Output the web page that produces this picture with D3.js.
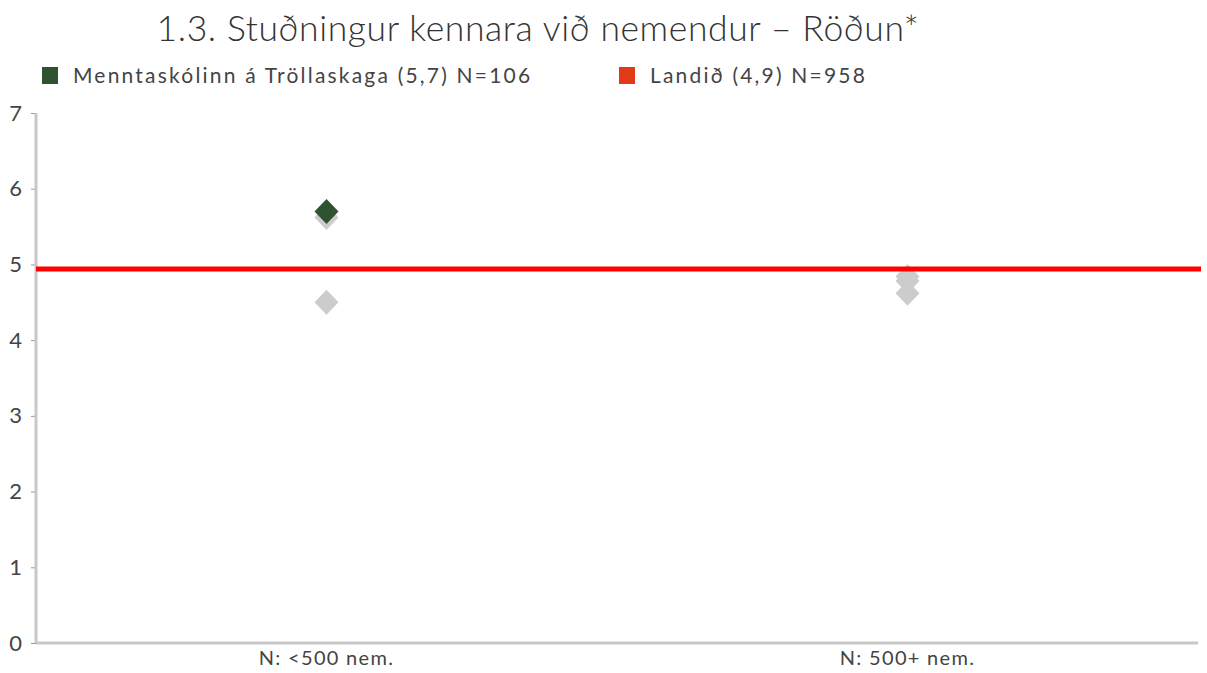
<!DOCTYPE html>
<html><head><meta charset="utf-8">
<script src="https://cdn.jsdelivr.net/npm/d3@7"></script>
<style>body{margin:0;background:#fff}svg{display:block}text{font-family:Lato,"Open Sans",sans-serif}</style>
</head><body>
<script>
const categories = ["N: <500 nem.", "N: 500+ nem."];
const otherSchools = [[5.62, 4.5], [4.84, 4.78, 4.62]];
const schoolValue = [5.7, null];
const nationalValue = 4.94;
const yTicks = [0,1,2,3,4,5,6,7];
const legendLabels = ["Menntaskólinn á Tröllaskaga (5,7) N=106", "Landið (4,9) N=958"];
const title = "1.3. Stuðningur kennara við nemendur – Röðun*";

const W = 1207, H = 673;
const m = {l: 36, r: 9, t: 113, b: 30};
const svg = d3.select("body").append("svg").attr("width", W).attr("height", H);
const x = d3.scaleBand().domain(categories).range([m.l, W - m.r]);
const y = d3.scaleLinear().domain([0, 7]).range([H - m.b, m.t]);

svg.append("text").attr("x", 538).attr("y", 41).attr("text-anchor", "middle")
  .attr("font-size", 35.5).attr("font-weight", 300).attr("fill", "#333").attr("letter-spacing", 0.6).text(title);

const leg = [{c: "#2F5230", x: 42}, {c: "#E03A16", x: 619}];
leg.forEach((d, i) => {
  svg.append("rect").attr("x", d.x).attr("y", 67).attr("width", 16).attr("height", 17).attr("fill", d.c);
  svg.append("text").attr("x", d.x + 31).attr("y", 83).attr("font-size", 21).attr("fill", "#444")
    .attr("letter-spacing", 2.2).text(legendLabels[i]);
});

// axes
const ya = svg.append("g").attr("transform", `translate(${m.l},0)`)
  .call(d3.axisLeft(y).tickValues(yTicks).tickSize(5).tickFormat(d3.format("d")));
ya.select(".domain").remove();
ya.selectAll(".tick line").attr("stroke", "#999");
ya.selectAll("text").attr("font-size", 22).attr("fill", "#444").attr("font-family", "Lato, sans-serif").attr("x", -14);

const xa = svg.append("g").attr("transform", `translate(0,${H - m.b})`)
  .call(d3.axisBottom(x).tickSize(0).tickPadding(8));
xa.select(".domain").remove();
xa.selectAll("text").attr("font-size", 20).attr("fill", "#444").attr("font-family", "Lato, sans-serif").attr("letter-spacing", 1.3);

svg.append("line").attr("x1", m.l).attr("x2", m.l).attr("y1", y(7)).attr("y2", y(0)).attr("stroke", "#c8c8c8").attr("stroke-width", 3);
svg.append("line").attr("x1", m.l).attr("x2", W - m.r).attr("y1", y(0)).attr("y2", y(0)).attr("stroke", "#c8c8c8").attr("stroke-width", 3);

const sym = () => "M0,-12.5L12,0L0,12.5L-12,0Z";

categories.forEach((c, i) => {
  otherSchools[i].forEach(v => {
    svg.append("path").attr("d", sym()).attr("fill", "#cccccc")
      .attr("transform", `translate(${x(c) + x.bandwidth()/2},${y(v)})`);
  });
});
categories.forEach((c, i) => {
  if (schoolValue[i] != null)
    svg.append("path").attr("d", sym()).attr("fill", "#2F5230")
      .attr("transform", `translate(${x(c) + x.bandwidth()/2},${y(schoolValue[i])})`);
});

svg.append("line").attr("x1", m.l).attr("x2", 1201).attr("y1", y(nationalValue)).attr("y2", y(nationalValue))
  .attr("stroke", "#ff0000").attr("stroke-width", 5);
</script>
</body></html>
